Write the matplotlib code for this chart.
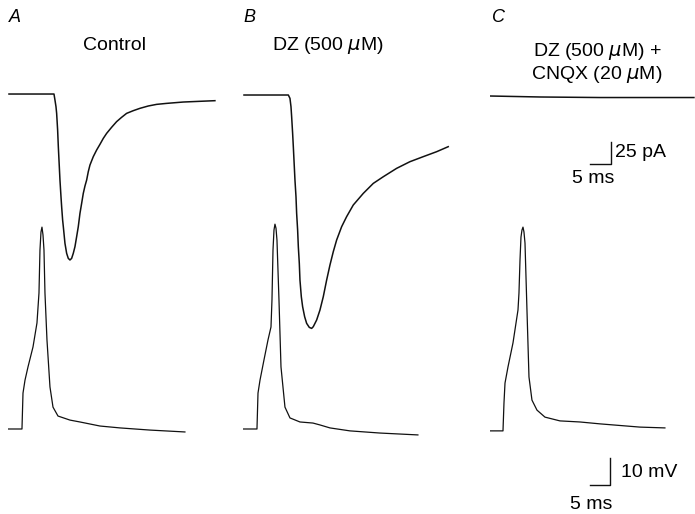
import numpy as np
import matplotlib
matplotlib.use("Agg")
import matplotlib.pyplot as plt

plt.rcParams["font.family"] = ["Liberation Sans", "DejaVu Sans"]

# ── traces: time (ms), current (pA), voltage (mV rel. rest)
# A: Control
cur_a_t = [0.24, 11.22, 11.46, 11.71, 11.87, 12.11, 12.28, 12.52, 12.68, 12.93, 13.09,
           13.33, 13.5, 13.9, 14.31, 14.71, 15.12, 15.53, 15.93, 16.34, 16.75, 17.15,
           17.56, 17.97, 18.37, 18.78, 19.19, 19.59, 20.0, 20.81, 21.63, 22.44, 23.25,
           24.07, 25.28, 26.5, 27.72, 28.94, 30.57, 32.2, 34.23, 36.26, 38.7, 42.76,
           46.83, 50.49]
cur_a_i = [0, 0, -6.7, -14.1, -21.5, -40.0, -58.5, -80.7, -95.6, -114.1, -125.2,
           -140.0, -147.4, -165.9, -177.0, -182.6, -184.4, -182.6, -177.0, -169.6, -158.5, -147.4,
           -132.6, -121.5, -110.4, -102.2, -95.6, -86.3, -78.9, -69.6, -62.2, -55.9, -49.3,
           -43.7, -37.0, -30.7, -25.9, -21.5, -18.5, -15.9, -13.3, -11.5, -10.4, -8.9,
           -8.1, -7.4]
vol_a_t = [0, 3.41, 3.66, 4.15, 4.88, 6.1, 7.07, 7.56, 7.8, 8.05, 8.29, 8.54, 8.78,
           9.02, 9.51, 10.24, 10.98, 12.2, 15.12, 17.56, 22.44, 27.32, 34.63, 43.17]
vol_a_v = [0, 0, 13.3, 18.1, 23.0, 30.4, 39.3, 50.4, 66.3, 73.0, 74.8, 71.9, 66.3,
           50.4, 33.0, 15.6, 8.1, 4.8, 3.3, 2.6, 1.1, 0.4, -0.4, -1.1]

# B: DZ (500 uM)
cur_b_t = [0.24, 11.06, 11.46, 11.71, 11.87, 12.11, 12.28, 12.52, 12.68, 12.93, 13.09,
           13.33, 13.5, 13.74, 13.9, 14.23, 14.55, 15.04, 15.53, 16.18, 16.75, 17.15,
           17.97, 18.78, 19.59, 20.41, 21.22, 22.03, 22.85, 24.07, 25.28, 26.91, 29.35,
           31.79, 34.23, 37.48, 40.73, 43.98, 47.24, 50.08]
cur_b_i = [-1.1, -1.1, -4.8, -14.1, -25.2, -43.7, -58.5, -80.7, -95.6, -114.1, -132.6,
           -151.1, -169.6, -188.1, -206.7, -225.2, -236.3, -247.4, -254.8, -259.3, -260.4, -258.5,
           -251.1, -240.0, -225.2, -206.7, -190.0, -175.2, -162.2, -147.4, -136.3, -123.3, -110.4,
           -99.3, -91.9, -82.6, -75.2, -69.6, -64.1, -58.5]
vol_b_t = [0, 3.41, 3.66, 4.15, 5.12, 6.1, 6.83, 7.07, 7.32, 7.56, 7.8, 8.05, 8.29,
           8.78, 9.27, 10.24, 11.46, 13.9, 17.07, 18.78, 21.22, 26.1, 33.41, 42.68]
vol_b_v = [0, 0, 13.3, 18.1, 25.6, 33.0, 37.8, 47.8, 66.3, 73.7, 75.9, 74.4, 70.0,
           47.8, 23.0, 8.1, 4.1, 2.6, 2.2, 1.5, 0.4, -0.7, -1.5, -2.2]

# C: DZ (500 uM) + CNQX (20 uM)
cur_c_t = [0, 12.2, 26.83, 39.02, 49.76]
cur_c_i = [-2.2, -3.3, -3.9, -3.9, -3.9]
vol_c_t = [0, 3.17, 3.41, 3.66, 4.39, 5.61, 6.83, 7.07, 7.32, 7.56, 7.8, 8.05, 8.29,
           8.54, 9.02, 9.51, 10.24, 11.46, 13.41, 17.07, 21.95, 26.83, 36.59, 42.68]
vol_c_v = [-0.7, -0.7, 9.6, 17.0, 23.0, 31.9, 44.1, 50.4, 62.6, 71.1, 73.7, 74.8, 73.0,
           68.9, 44.1, 19.3, 10.7, 7.0, 4.4, 3.0, 2.6, 1.9, 0.7, 0.4]

panel_letters = ["A", "B", "C"]
panel_titles = ["Control", "DZ (500 $\\mu$M)", "DZ (500 $\\mu$M) +\nCNQX (20 $\\mu$M)"]

# ── layout (pixels of a 695x514 canvas)
W, H = 695, 514
col_left = [8, 243, 490]
col_w = 209
XLIM = (0, 51)
CUR_LIM = (-273.3, 37.8)     # pA, axes spans y px 60..340
VOL_LIM = (-31.5, 83.0)      # mV, axes spans y px 205..514
LINE = "#111111"


def px_axes(fig, left, top, width, height):
    return fig.add_axes([left / W, 1 - (top + height) / H, width / W, height / H])


fig = plt.figure(figsize=(W / 100, H / 100), dpi=100, facecolor="white")

curr = [(cur_a_t, cur_a_i), (cur_b_t, cur_b_i), (cur_c_t, cur_c_i)]
volt = [(vol_a_t, vol_a_v), (vol_b_t, vol_b_v), (vol_c_t, vol_c_v)]

axes_c, axes_v = [], []
for k in range(3):
    ax_i = px_axes(fig, col_left[k], 60, col_w, 280)
    ax_v = px_axes(fig, col_left[k], 205, col_w, 309)
    for ax in (ax_i, ax_v):
        ax.set_xlim(*XLIM)
        ax.axis("off")
        ax.patch.set_alpha(0)
    ax_i.set_ylim(*CUR_LIM)
    ax_v.set_ylim(*VOL_LIM)
    ax_i.plot(curr[k][0], curr[k][1], color=LINE, lw=1.1, solid_joinstyle="round")
    ax_v.plot(volt[k][0], volt[k][1], color=LINE, lw=0.9, solid_joinstyle="round")
    axes_c.append(ax_i)
    axes_v.append(ax_v)

# panel letters and titles
letter_x = [9, 243, 492]
for k in range(3):
    fig.text(letter_x[k] / W, 1 - 18 / H, panel_letters[k], style="italic",
             fontsize=13, ha="left", va="center")
fig.text(114.5 / W, 1 - 45 / H, panel_titles[0], fontsize=14, ha="center", va="center")
fig.text(328 / W, 1 - 46 / H, panel_titles[1], fontsize=14, ha="center", va="center")
fig.text(597 / W, 1 - 63 / H, panel_titles[2], fontsize=14, ha="center", va="center",
         linespacing=1.15)

# scale bars in panel C
ax = axes_c[2]
x0, y0 = 29.5, -77.8
ax.plot([x0 - 5, x0, x0], [y0, y0, y0 + 25], color=LINE, lw=1.0)
ax.text(x0 + 0.9, y0 + 12.5, "25 pA", fontsize=14, ha="left", va="center")
ax.text(x0 - 4.2, y0 - 16, "5 ms", fontsize=14, ha="center", va="center")

ax = axes_v[2]
x0, y0 = 29.3, -20.7
ax.plot([x0 - 5, x0, x0], [y0, y0, y0 + 10], color=LINE, lw=1.0)
ax.text(x0 + 2.6, y0 + 4.4, "10 mV", fontsize=14, ha="left", va="center")
ax.text(x0 - 4.6, y0 - 7.4, "5 ms", fontsize=14, ha="center", va="center")

fig.savefig("out.png", dpi=100, facecolor="white")
